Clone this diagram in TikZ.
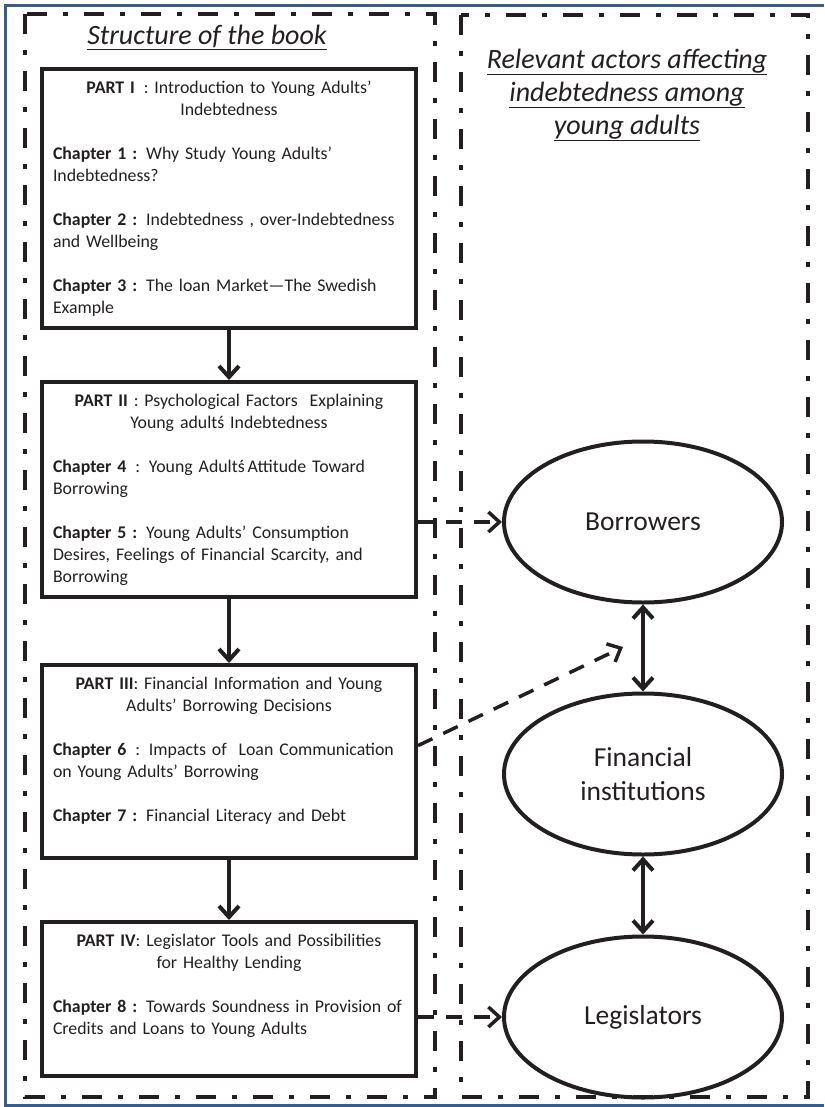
\documentclass[tikz,border=0pt]{standalone}
\usepackage{fontspec}
\setmainfont{Carlito}
\usetikzlibrary{shapes.geometric,positioning,arrows.meta}
\definecolor{ink}{RGB}{35,31,32}
\definecolor{rim}{RGB}{56,93,138}

\begin{document}
\begin{tikzpicture}[
						x=1pt,
						y=-1pt,
						color=ink,
						>={Straight Barb[length=11pt,width=20pt]},
						partbox/.style={draw, line width=4pt, text width=352pt, inner xsep=11pt, inner ysep=12pt, anchor=north west, align=left, font=\fontsize{17.8}{22}\selectfont},
						actor/.style={draw, ellipse, line width=4pt, minimum width=278pt, minimum height=161pt, inner sep=0pt, align=center, font=\fontsize{27.5}{34}\selectfont},
						heading/.style={align=center, font=\fontsize{28}{33}\selectfont\itshape},
						frame/.style={line width=4pt, dash pattern=on 20pt off 16pt on 5pt off 16pt},
						flow/.style={->, line width=4pt},
						link/.style={->, line width=3.5pt, dash pattern=on 16pt off 12pt}
					]
					\useasboundingbox (0,0) rectangle (824,1107);
					\draw[rim, line width=3pt] (824,5.5) -- (5.5,5.5) -- (5.5,1105.5) -- (824,1105.5);
					\draw[frame] (25,14) rectangle (435,1097);
					\draw[frame] (461,15) rectangle (808,1097);

					% headings
					\node[heading] (booktitle) at (207,37) {\underline{Structure of the book}};
					\node[heading] (actortitle) at (627,95) {\underline{Relevant actors affecting}\\\underline{indebtedness among}\\\underline{young adults}};

					% parts of the book
					\node[partbox] (part1) at (40,67) {
						{\centering\textbf{PART I}\, : Introduction to Young Adults’\\Indebtedness\par}\vspace{22pt}
						\textbf{Chapter 1 :} Why Study Young Adults’\\Indebtedness?\\[22pt]
						\textbf{Chapter 2 :} Indebtedness , over-Indebtedness\\and Wellbeing\\[22pt]
						\textbf{Chapter 3 :} The loan Market—The Swedish\\Example
					};
					\node[partbox] (part2) at (40,380) {
						{\centering\textbf{PART II} : Psychological Factors\ \ Explaining\\Young adultś\ Indebtedness\par}\vspace{22pt}
						\textbf{Chapter 4}\, : Young Adultś\,Attitude Toward\\Borrowing\\[22pt]
						\textbf{Chapter 5 :} Young Adults’ Consumption\\Desires, Feelings of Financial Scarcity, and\\Borrowing
					};
					\node[partbox] (part3) at (40,663) {
						{\centering\textbf{PART III}: Financial Information and Young\\Adults’ Borrowing Decisions\par}\vspace{22pt}
						\textbf{Chapter 6}\, : Impacts of\ \ Loan Communication\\on Young Adults’ Borrowing\\[22pt]
						\textbf{Chapter 7 :} Financial Literacy and Debt\par\vspace{22pt}
					};
					\node[partbox] (part4) at (40,920) {
						{\centering\textbf{PART IV}: Legislator Tools and Possibilities\\for Healthy Lending\par}\vspace{22pt}
						\textbf{Chapter 8 :} Towards Soundness in Provision of\\Credits and Loans to Young Adults\par\vspace{27pt}
					};

					% actors
					\node[actor] (borrowers) at (643,522) {Borrowers};
					\node[actor, below=87pt of borrowers] (institutions) {Financial\\institutions};
					\node[actor, below=78pt of institutions] (legislators) {Legislators};
					\coordinate (between) at (623,647);

					\draw[flow] (part1) -- (part2);
					\draw[flow] (part2) -- (part3);
					\draw[flow] (part3) -- (part4);
					\draw[flow, <->] (borrowers) -- (institutions);
					\draw[flow, <->] (institutions) -- (legislators);

					\draw[link] (part2.east |- borrowers.west) -- (borrowers.west);
					\draw[link] ([yshift=16pt]part3.east) -- (between);
					\draw[link] (part4.east |- legislators.west) -- (legislators.west);
				\end{tikzpicture}
\end{document}
